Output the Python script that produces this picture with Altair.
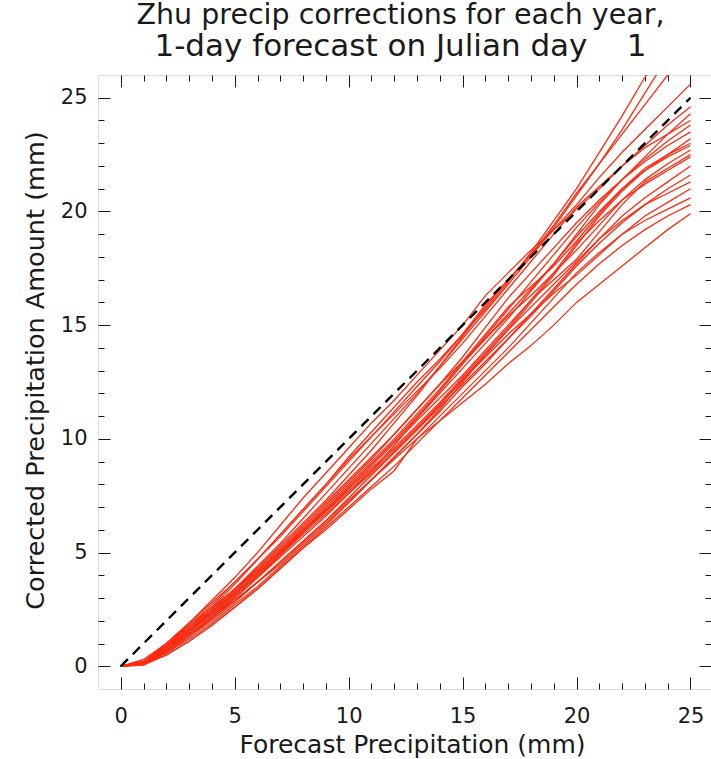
import altair as alt
import pandas as pd

# ---------------- data ----------------
forecast_mm = [0, 1, 2, 3, 4, 5, 6, 7, 8, 9, 10, 11, 12, 13, 14, 15, 16, 17, 18, 19, 20, 21, 22, 23, 24, 25]

years = [1985, 1986, 1987, 1988, 1989, 1990, 1991, 1992, 1993, 1994, 1995,
         1996, 1997, 1998, 1999, 2000, 2001, 2002, 2003, 2004, 2005, 2006]

corrected_mm = [
    [0, 0.2, 1.0, 1.9, 2.8, 3.7, 4.7, 5.8, 6.9, 8.0, 9.2, 10.3, 11.4, 12.5, 13.5, 14.6, 15.7, 16.9, 18.2, 19.6, 21.0, 22.6, 24.2, 25.9, 27.4, 28.9],
    [0, 0.1, 0.8, 1.6, 2.5, 3.4, 4.4, 5.4, 6.5, 7.6, 8.7, 9.8, 10.9, 12.0, 13.2, 14.4, 15.6, 16.8, 18.0, 19.3, 20.7, 22.1, 23.6, 25.2, 26.8, 28.2],
    [0, 0.2, 0.9, 1.8, 2.7, 3.7, 4.7, 5.7, 6.8, 7.9, 9.0, 10.1, 11.2, 12.3, 13.4, 14.6, 15.9, 17.0, 18.1, 19.4, 20.8, 22.1, 23.4, 24.7, 26.0, 27.3],
    [0, 0.1, 0.7, 1.5, 2.4, 3.3, 4.3, 5.3, 6.3, 7.3, 8.4, 9.5, 10.7, 11.9, 13.2, 14.5, 15.8, 17.0, 18.1, 19.2, 20.3, 21.5, 22.6, 23.6, 24.6, 25.6],
    [0, 0.2, 1.0, 1.9, 2.9, 3.9, 5.0, 6.2, 7.4, 8.5, 9.6, 10.7, 11.7, 12.8, 13.9, 15.0, 16.3, 17.3, 18.3, 19.2, 20.1, 21.0, 22.0, 22.9, 23.8, 24.6],
    [0, 0.1, 0.6, 1.3, 2.1, 3.0, 3.9, 4.9, 5.9, 6.9, 7.9, 8.9, 9.9, 11.0, 12.1, 13.3, 14.5, 15.7, 16.9, 18.1, 19.3, 20.4, 21.4, 22.4, 23.4, 24.3],
    [0, 0.2, 0.9, 1.7, 2.6, 3.6, 4.7, 5.8, 6.9, 8.0, 9.1, 10.1, 11.1, 12.1, 13.1, 14.2, 15.4, 16.6, 17.8, 19.0, 20.2, 21.1, 22.0, 22.8, 23.4, 24.0],
    [0, 0.1, 0.7, 1.4, 2.2, 3.1, 4.0, 4.9, 5.9, 6.9, 7.9, 8.9, 9.9, 10.9, 12.0, 13.1, 14.2, 15.3, 16.5, 17.7, 19.0, 20.3, 21.4, 22.3, 23.1, 23.8],
    [0, 0.2, 0.8, 1.6, 2.4, 3.3, 4.2, 5.1, 6.1, 7.1, 8.1, 9.1, 10.2, 11.3, 12.4, 13.6, 14.9, 16.2, 17.3, 18.4, 19.5, 20.5, 21.4, 22.2, 22.9, 23.5],
    [0, 0.1, 0.6, 1.3, 2.0, 2.8, 3.7, 4.6, 5.5, 6.4, 7.4, 8.4, 9.4, 10.4, 11.5, 12.6, 13.7, 14.8, 16.0, 17.2, 18.5, 19.8, 20.9, 21.8, 22.5, 23.2],
    [0, 0.2, 0.9, 1.7, 2.5, 3.4, 4.3, 5.2, 6.2, 7.2, 8.2, 9.2, 10.2, 11.3, 12.4, 13.4, 14.4, 15.5, 16.6, 17.7, 18.9, 20.0, 21.0, 21.8, 22.4, 22.9],
    [0, 0.1, 0.7, 1.4, 2.2, 3.0, 3.9, 4.8, 5.7, 6.6, 7.6, 8.6, 9.7, 10.9, 12.1, 13.3, 14.4, 15.4, 16.3, 17.3, 18.3, 19.4, 20.5, 21.4, 22.1, 22.7],
    [0, 0.3, 1.0, 1.8, 2.6, 3.4, 4.2, 5.1, 6.0, 6.9, 7.8, 8.7, 9.6, 10.6, 11.6, 12.7, 13.8, 14.9, 16.1, 17.3, 18.6, 19.6, 20.5, 21.2, 21.8, 22.4],
    [0, 0.1, 0.6, 1.2, 1.9, 2.7, 3.5, 4.4, 5.3, 6.2, 7.2, 8.2, 9.2, 10.2, 11.2, 12.3, 13.3, 14.4, 15.5, 16.6, 17.7, 18.8, 19.8, 20.6, 21.3, 22.0],
    [0, 0.2, 0.8, 1.5, 2.3, 3.1, 4.0, 4.9, 5.8, 6.7, 7.6, 8.5, 9.4, 10.4, 11.4, 12.4, 13.4, 14.4, 15.4, 16.5, 17.6, 18.6, 19.5, 20.3, 21.0, 21.6],
    [0, 0.1, 0.7, 1.4, 2.1, 2.9, 3.7, 4.5, 5.4, 6.3, 7.2, 8.2, 9.2, 10.2, 11.3, 12.5, 13.7, 14.8, 15.8, 16.8, 17.8, 18.8, 19.6, 20.3, 20.8, 21.3],
    [0, 0.2, 0.7, 1.4, 2.1, 2.9, 3.7, 4.6, 5.5, 6.4, 7.3, 8.2, 9.1, 10.0, 11.0, 12.0, 13.0, 14.0, 15.1, 16.2, 17.3, 18.2, 19.0, 19.6, 20.1, 20.6],
    [0, 0.1, 0.5, 1.1, 1.8, 2.6, 3.4, 4.3, 5.2, 6.1, 7.0, 7.9, 8.8, 9.8, 10.8, 11.8, 12.8, 13.8, 14.8, 15.8, 16.8, 17.7, 18.5, 19.2, 19.8, 20.3],
    [0, 0.05, 0.5, 1.1, 1.8, 2.6, 3.4, 4.3, 5.2, 6.0, 6.9, 7.8, 8.6, 10.0, 10.8, 11.6, 12.4, 13.3, 14.1, 15.0, 16.0, 16.8, 17.6, 18.4, 19.2, 19.9],
    [0, 0.2, 0.8, 1.6, 2.4, 3.2, 4.1, 5.0, 5.9, 6.8, 7.8, 8.8, 9.8, 10.8, 11.8, 12.8, 13.9, 15.0, 16.1, 17.0, 17.9, 19.1, 20.3, 21.3, 21.9, 22.5],
    [0, 0.1, 0.8, 1.5, 2.3, 3.2, 4.1, 5.0, 6.0, 7.0, 8.0, 9.0, 10.0, 11.1, 12.2, 13.4, 14.6, 15.8, 16.7, 17.6, 18.7, 19.9, 21.0, 21.9, 22.5, 23.0],
    [0, 0.2, 0.9, 1.6, 2.4, 3.2, 4.1, 5.0, 5.9, 6.8, 7.7, 8.6, 9.5, 10.5, 11.5, 12.6, 13.6, 14.6, 15.5, 16.4, 17.2, 18.1, 19.0, 19.8, 20.4, 21.0],
]

diag_x = [0, 25]
diag_y = [0, 25]

major_ticks = [0, 5, 10, 15, 20, 25]
minor_ticks = [1, 2, 3, 4, 6, 7, 8, 9, 11, 12, 13, 14, 16, 17, 18, 19, 21, 22, 23, 24]

title_line1 = "Zhu precip corrections for each year,"
title_line2 = "\u00a0\u00a0\u00a0\u00a01-day forecast on Julian day\u00a0\u00a0\u00a0 1"
x_title = "Forecast Precipitation (mm)"
y_title = "Corrected Precipitation Amount (mm)"

# ---------------- tables ----------------
rows = []
for yr, vals in zip(years, corrected_mm):
    for fx, cy in zip(forecast_mm, vals):
        rows.append({"year": yr, "forecast": fx, "corrected": cy})
lines_df = pd.DataFrame(rows)
diag_df = pd.DataFrame({"forecast": diag_x, "corrected": diag_y})

# ---------------- style ----------------
FONT = "DejaVu Sans"
INK = "#1a1a1a"
MAJ = 12
MIN = 6

x_scale = alt.Scale(domain=[-1, 25.9], nice=False, zero=False)
y_scale = alt.Scale(domain=[-1, 26], nice=False, zero=False)


def ax(orient, values, size, labels=False, title=None, **kw):
    params = dict(orient=orient, values=values, offset=-size, tickSize=size,
                  tickColor=INK, tickWidth=1, domain=False, grid=False,
                  labels=labels, title=title)
    if labels:
        params.update(labelFont=FONT, labelFontSize=21, labelColor=INK,
                      labelFlush=False, labelOverlap=False)
    if title:
        params.update(titleFont=FONT, titleFontWeight="normal", titleColor=INK)
    params.update(kw)
    return alt.Axis(**params)


x_bottom_major = ax("bottom", major_ticks, MAJ, labels=True, title=x_title,
                    labelPadding=16, titleFontSize=25, titleX=314, titleY=75,
                    titleBaseline="alphabetic", titleAlign="center")
y_left_major = ax("left", major_ticks, MAJ, labels=True, title=y_title,
                  labelPadding=11, titleFontSize=25.5, titleX=-75, titleY=295,
                  titleAngle=270, titleBaseline="middle", titleAlign="center")

red_lines = alt.Chart(lines_df).mark_line(
    color="#ff2a10", strokeWidth=1.3, clip=True
).encode(
    x=alt.X("forecast:Q", scale=x_scale, axis=x_bottom_major),
    y=alt.Y("corrected:Q", scale=y_scale, axis=y_left_major),
    detail="year:N",
    order="forecast:Q",
)

dashed = alt.Chart(diag_df).mark_line(
    color="#000000", strokeWidth=2.4, strokeDash=[10, 7], clip=True
).encode(
    x=alt.X("forecast:Q", scale=x_scale, axis=ax("bottom", minor_ticks, MIN)),
    y=alt.Y("corrected:Q", scale=y_scale, axis=ax("left", minor_ticks, MIN)),
)

top_right_major = alt.Chart(diag_df).mark_line(strokeOpacity=0).encode(
    x=alt.X("forecast:Q", scale=x_scale, axis=ax("top", major_ticks, MAJ)),
    y=alt.Y("corrected:Q", scale=y_scale, axis=ax("right", major_ticks, MAJ)),
)

top_right_minor = alt.Chart(diag_df).mark_line(strokeOpacity=0).encode(
    x=alt.X("forecast:Q", scale=x_scale, axis=ax("top", minor_ticks, MIN)),
    y=alt.Y("corrected:Q", scale=y_scale, axis=ax("right", minor_ticks, MIN)),
)

chart = alt.layer(
    red_lines, dashed, top_right_major, top_right_minor
).resolve_axis(
    x="independent", y="independent"
).properties(
    width=613,
    height=614,
    padding={"left": 98, "top": 75, "right": 0, "bottom": 70},
    autosize=alt.AutoSizeParams(type="none"),
    title=alt.TitleParams(
        text=title_line1, subtitle=title_line2,
        font=FONT, fontSize=28.5, fontWeight="normal", color=INK,
        subtitleFont=FONT, subtitleFontSize=31, subtitleColor=INK,
        subtitlePadding=2,
        anchor="middle", offset=13, dx=-4,
    ),
).configure_view(
    stroke=INK, strokeWidth=1.2
).configure(
    background="white"
)

chart.save("out.html", embed_options={"renderer": "svg", "actions": False})
